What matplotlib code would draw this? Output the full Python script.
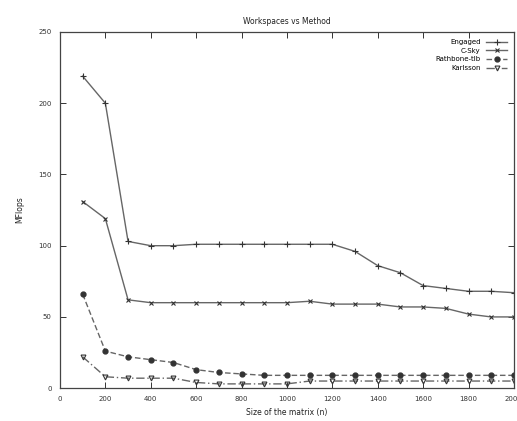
import matplotlib
matplotlib.use("Agg")
import matplotlib.pyplot as plt

sizes = list(range(100, 2001, 100))
engaged = [219, 200, 103, 100, 100, 101, 101, 101, 101, 101, 101, 101, 96, 86, 81, 72, 70, 68, 68, 67]
csky = [131, 119, 62, 60, 60, 60, 60, 60, 60, 60, 61, 59, 59, 59, 57, 57, 56, 52, 50, 50]
rathbone = [66, 26, 22, 20, 18, 13, 11, 10, 9, 9, 9, 9, 9, 9, 9, 9, 9, 9, 9, 9]
karlsson = [22, 8, 7, 7, 7, 4, 3, 3, 3, 3, 5, 5, 5, 5, 5, 5, 5, 5, 5, 5]
labels = ["Engaged", "C-Sky", "Rathbone-tlb", "Karlsson"]
xticks = list(range(0, 2001, 200))
yticks = [0, 50, 100, 150, 200, 250]

plt.rcParams['font.family'] = ['DejaVu Sans']
fig = plt.figure(figsize=(5.17, 4.21), dpi=100)
ax = fig.add_axes([0.116, 0.078, 0.878, 0.846])

lc = '#666666'
mc = '#333333'
ax.plot(sizes, engaged, color=lc, lw=1.0, marker='+', ms=4, mew=0.8, mec=mc, label=labels[0])
ax.plot(sizes, csky, color=lc, lw=1.0, marker='x', ms=3, mew=0.8, mec=mc, label=labels[1])
ax.plot(sizes, rathbone, color=lc, lw=1.0, ls=(0, (4, 2)), marker='o', ms=3.5, mec=mc, mfc=mc, label=labels[2])
ax.plot(sizes, karlsson, color=lc, lw=1.0, ls=(0, (6, 2, 1, 2)), marker='v', ms=3.5, mec=mc, mfc='none', mew=0.8, label=labels[3])

ax.set_xlim(0, 2000)
ax.set_ylim(0, 250)
ax.set_xticks(xticks)
ax.set_yticks(yticks)
ax.tick_params(direction='in', top=True, right=True, labelsize=5, length=4, width=0.7, colors='#333333', pad=6)
for s in ax.spines.values():
    s.set_linewidth(0.9)
    s.set_color('#444444')

ax.set_title("Workspaces vs Method", fontsize=5.5, color='#222222', pad=6)
ax.set_xlabel("Size of the matrix (n)", fontsize=5.5, color='#222222', labelpad=4)
ax.set_ylabel("MFlops", fontsize=5.5, color='#222222', labelpad=10)

leg = ax.legend(loc='upper right', frameon=False, fontsize=5, markerfirst=False,
                handlelength=3, labelspacing=0.4, borderaxespad=0.6)

fig.savefig("out.png", dpi=100)
